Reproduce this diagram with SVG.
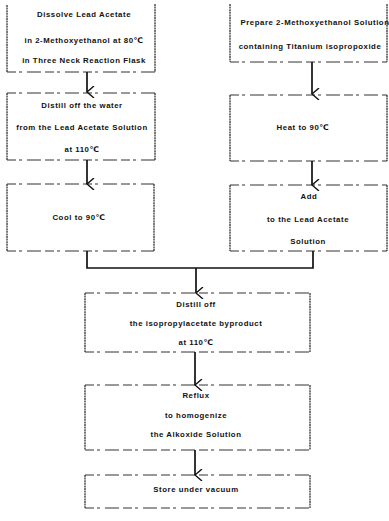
<svg xmlns="http://www.w3.org/2000/svg" width="389" height="521" viewBox="0 0 389 521">
<defs>
<style>
.bg{fill:#ffffff}
.v{stroke:#222;stroke-width:1.2;fill:none;stroke-dasharray:2 0.6}
.h{stroke:#333;stroke-width:1;fill:none;stroke-dasharray:9 3 3 5 14 4}
text{font-family:"Liberation Sans","DejaVu Sans",sans-serif;font-size:7.8px;font-weight:bold;fill:#111;text-anchor:middle;letter-spacing:0.55px}
.c{stroke:#111;stroke-width:1.7;fill:none}
</style>
<marker id="ah" viewBox="0 0 12 10" refX="6" refY="9" markerWidth="12" markerHeight="10" markerUnits="userSpaceOnUse" orient="auto-start-reverse">
<polyline points="0,2 6,9 12,2" fill="none" stroke="#111" stroke-width="1.4"/>
</marker>
</defs>
<rect class="bg" x="0" y="0" width="389" height="521"/>

<g id="n1">
<path class="v" d="M7,5 V72 M155,4 V72"/>
<path class="h" d="M7,72 H155"/>
<text x="84" y="17">Dissolve Lead Acetate</text>
<text x="84" y="43">in 2-Methoxyethanol at 80℃</text>
<text x="84" y="63">in Three Neck Reaction Flask</text>
</g>

<g id="n2">
<path class="v" d="M230,4 V62 M387,4 V62"/>
<path class="h" d="M230,62 H387"/>
<text x="315" y="25">Prepare 2-Methoxyethanol Solution</text>
<text x="310" y="49">containing Titanium isopropoxide</text>
</g>

<g id="n3">
<path class="v" d="M7,93 V160 M155,93 V160"/>
<path class="h" d="M7,93 H155 M7,160 H155"/>
<text x="82" y="108">Distill off the water</text>
<text x="82" y="130">from the Lead Acetate Solution</text>
<text x="82" y="152">at 110℃</text>
</g>

<g id="n4">
<path class="v" d="M230,95 V161 M387,95 V161"/>
<path class="h" d="M230,95 H387 M230,161 H387"/>
<text x="303" y="130">Heat to 90℃</text>
</g>

<g id="n5">
<path class="v" d="M7,184 V251 M154,184 V251"/>
<path class="h" d="M7,184 H154 M7,251 H154"/>
<text x="79" y="220">Cool to 90℃</text>
</g>

<g id="n6">
<path class="v" d="M230,185 V251 M387,185 V251"/>
<path class="h" d="M230,185 H387 M230,251 H387"/>
<text x="309" y="199">Add</text>
<text x="308" y="222">to the Lead Acetate</text>
<text x="308" y="244">Solution</text>
</g>

<g id="n7">
<path class="v" d="M85,293 V352 M310,293 V352"/>
<path class="h" d="M85,293 H310 M85,352 H310"/>
<text x="196" y="307">Distill off</text>
<text x="196" y="326">the isopropylacetate byproduct</text>
<text x="196" y="345">at 110℃</text>
</g>

<g id="n8">
<path class="v" d="M85,385 V450 M310,385 V450"/>
<path class="h" d="M85,385 H310 M85,450 H310"/>
<text x="196" y="398">Reflux</text>
<text x="196" y="418">to homogenize</text>
<text x="196" y="437">the Alkoxide Solution</text>
</g>

<g id="n9">
<path class="v" d="M85,475 V508 M310,475 V508"/>
<path class="h" d="M85,475 H310 M85,508 H310"/>
<text x="196" y="492">Store under vacuum</text>
</g>

<g id="connectors">
<path class="c" d="M87,72 V92" marker-end="url(#ah)"/>
<path class="c" d="M312,62 V94" marker-end="url(#ah)"/>
<path class="c" d="M87,160 V184" marker-end="url(#ah)"/>
<path class="c" d="M312,161 V185" marker-end="url(#ah)"/>
<path class="c" d="M87,251 V268 H313 V251"/>
<path class="c" d="M196,268 V293" marker-end="url(#ah)"/>
<path class="c" d="M195,352 V385" marker-end="url(#ah)"/>
<path class="c" d="M195,450 V475" marker-end="url(#ah)"/>
</g>
</svg>
